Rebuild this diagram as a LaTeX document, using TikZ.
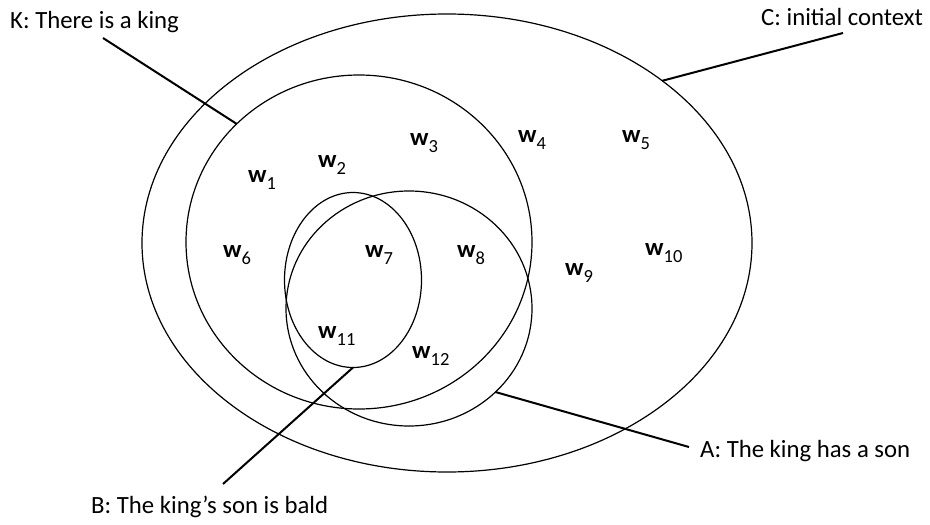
\documentclass[tikz,border=0pt]{standalone}
\usepackage{fontspec}
\setmainfont{Carlito}
\usepackage{tikz}
\usetikzlibrary{shapes.geometric}
\usetikzlibrary{calc}
\usepackage{xcolor}

\begin{document}
\begin{tikzpicture}[x=1pt, y=-1pt]
        % ================= 样式定义 =================
        \tikzset{
            % 集合椭圆
            setnode/.style={ellipse, draw=black, line width=1.2pt, inner sep=0pt, outer sep=0pt},
            % 引线
            leader_line/.style={line width=2pt, black},
            % 说明文字
            labnode/.style={anchor=base west, inner sep=0pt, font=\fontsize{24.75}{30}\selectfont},
            % 世界 w_i
            wnode/.style={anchor=base west, inner sep=0pt, font=\fontsize{24.75}{30}\selectfont}
        }
        \def\wsub#1{\textbf{w}\raisebox{-7pt}{\fontsize{18.5}{20}\selectfont #1}}

        \useasboundingbox (0,0) rectangle (930,525);

        % ================= 四个集合 (C, K, A, B) =================
        \node[setnode, minimum width=610pt, minimum height=458pt] (c_set) at (447,243) {};
        \node[setnode, minimum width=346pt, minimum height=334pt] (k_set) at (359,242) {};
        \node[setnode, minimum width=246pt, minimum height=235pt] (a_set) at (409,308.5) {};
        \node[setnode, minimum width=137pt, minimum height=175pt] (b_set) at (353,280) {};

        % ================= 引线端点 =================
        \coordinate (k_end) at (103,38);
        \coordinate (c_end) at (843,33);
        \coordinate (a_end) at (689,447);
        \coordinate (b_end) at (223,484);

        % ================= 引线 =================
        \draw[leader_line] (k_end) -- (k_set.136);
        \draw[leader_line] (c_set.37) -- (c_end);
        \draw[leader_line] (a_set.-44) -- (a_end);
        \draw[leader_line] (b_set.-90) -- (b_end);

        % ================= 说明文字 =================
        \node[labnode] (k_lab) at (10,28) {K: There is a king};
        \node[labnode] (c_lab) at (761,25) {C: initial context};
        \node[labnode] (a_lab) at (700,457) {A: The king has a son};
        \node[labnode] (b_lab) at (91,513) {B: The king’s son is bald};

        % ================= 世界 w1 ... w12 =================
        \node[wnode] (w1) at (248,182) {\wsub{1}};
        \node[wnode] (w2) at (318,167) {\wsub{2}};
        \node[wnode] (w3) at (410,145) {\wsub{3}};
        \node[wnode] (w4) at (518,142) {\wsub{4}};
        \node[wnode] (w5) at (622,142) {\wsub{5}};
        \node[wnode] (w6) at (223,257) {\wsub{6}};
        \node[wnode] (w7) at (365,257) {\wsub{7}};
        \node[wnode] (w8) at (457,257) {\wsub{8}};
        \node[wnode] (w9) at (565,275) {\wsub{9}};
        \node[wnode] (w10) at (645,255) {\wsub{10}};
        \node[wnode] (w11) at (318,338) {\wsub{11}};
        \node[wnode] (w12) at (412,358) {\wsub{12}};

    \end{tikzpicture}
\end{document}
